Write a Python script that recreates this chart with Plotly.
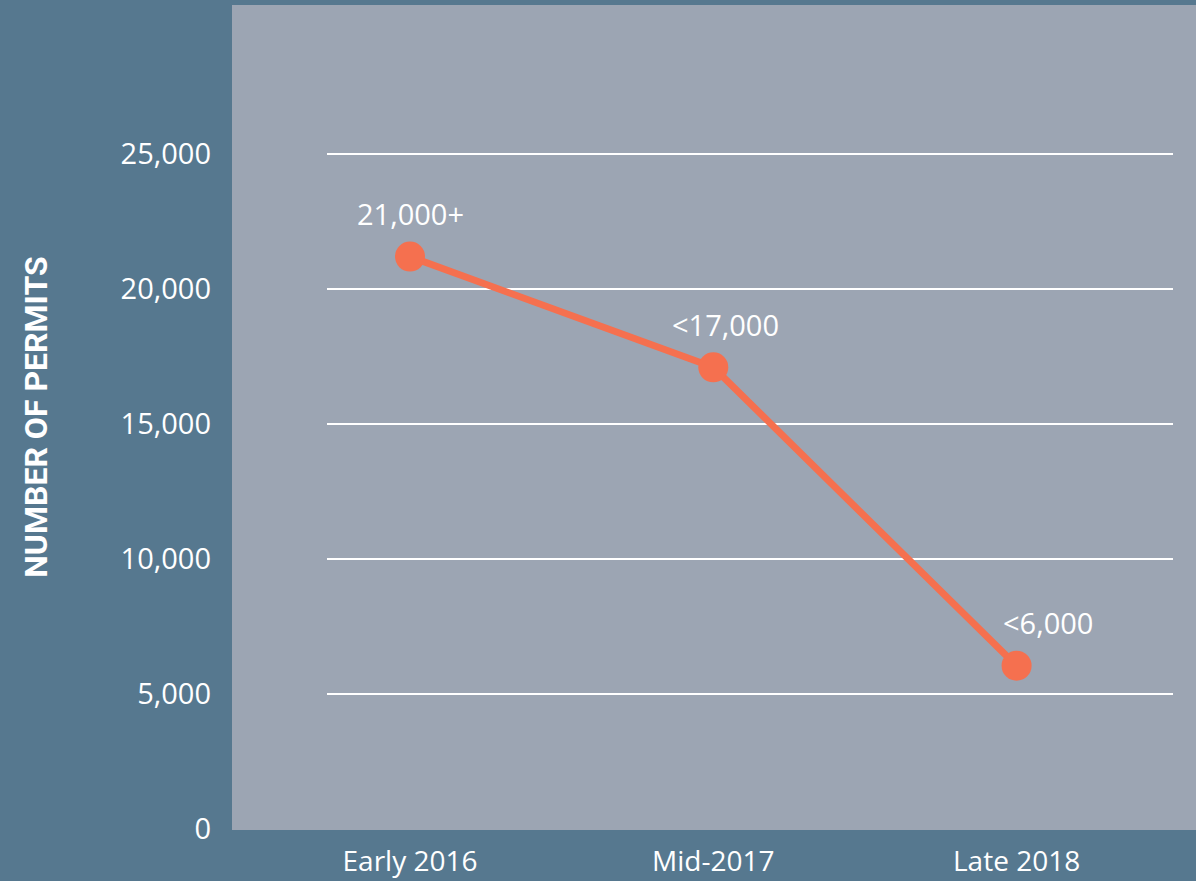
import plotly.graph_objects as go

categories = ["Early 2016", "Mid-2017", "Late 2018"]
permits = [21200, 17100, 6050]
point_labels = ["21,000+", "<17,000", "<6,000"]
label_xshift = [0, 12, 31]
y_ticks = [0, 5000, 10000, 15000, 20000, 25000]
y_ticktext = ["0", "5,000", "10,000", "15,000", "20,000", "25,000"]

OUTER = "#56788f"
PANEL = "#9ca5b3"
ORANGE = "#f5704f"
FONT = "Open Sans"

W, H = 1196, 881
L, R, T, B = 327, 23, 5, 52
plot_w = W - L - R

fig = go.Figure()
fig.add_trace(go.Scatter(
    x=list(range(len(categories))), y=permits,
    mode="lines+markers",
    line=dict(color=ORANGE, width=7),
    marker=dict(color=ORANGE, size=30),
    hoverinfo="skip", showlegend=False,
))

for i, (v, t) in enumerate(zip(permits, point_labels)):
    fig.add_annotation(x=i, y=v, text=t, showarrow=False,
                       yshift=43, xshift=label_xshift[i],
                       font=dict(family=FONT, size=29, color="white"))

# lighter panel behind the plot
fig.add_shape(type="rect", xref="paper", yref="paper",
              x0=(232 - L) / plot_w, x1=(W - L) / plot_w, y0=-0.0012, y1=1,
              fillcolor=PANEL, line=dict(width=0), layer="below")

fig.update_layout(
    width=W, height=H,
    margin=dict(l=L, r=R, t=T, b=B, pad=0, autoexpand=False),
    paper_bgcolor=OUTER,
    plot_bgcolor="rgba(0,0,0,0)",
    font=dict(family=FONT, color="white"),
    xaxis=dict(
        tickmode="array", tickvals=list(range(len(categories))), ticktext=categories,
        range=[-0.2737, 2.5157], showgrid=False, zeroline=False, showline=False,
        ticks="", tickfont=dict(size=28, color="white", family=FONT),
        ticklabelstandoff=13, automargin=False,
    ),
    yaxis=dict(
        range=[0, 30519], tickvals=y_ticks, ticktext=y_ticktext,
        showgrid=True, gridcolor="white", gridwidth=2,
        zeroline=False, showline=False, ticks="",
        tickfont=dict(size=29, color="white", family=FONT),
        ticklabelstandoff=115, automargin=False,
        title=dict(text="<b>NUMBER OF PERMITS</b>",
                   font=dict(family="Roboto", size=32, color="white"),
                   standoff=63),
    ),
)

fig.write_html("out.html", config={"displayModeBar": False},
               post_script="document.body.style.margin='0';document.body.style.background='" + OUTER + "';")
